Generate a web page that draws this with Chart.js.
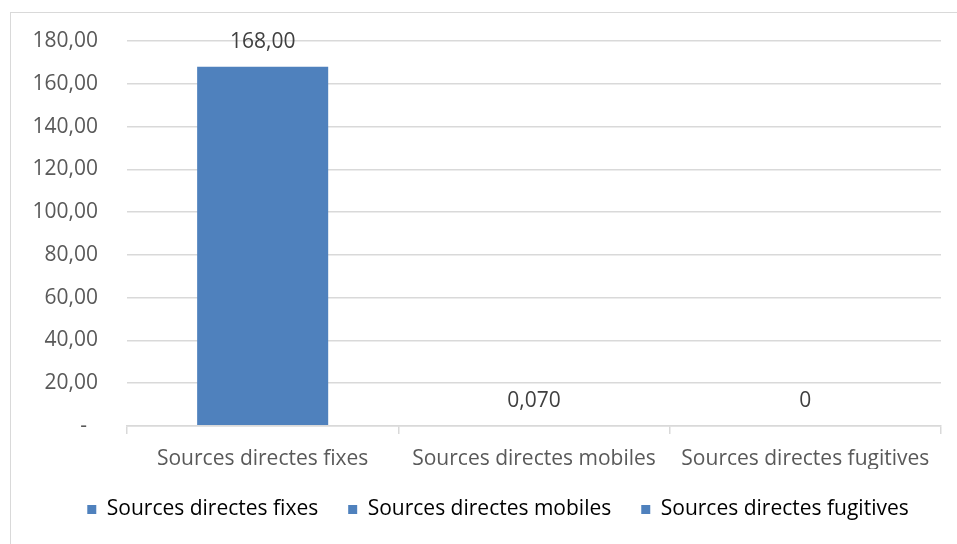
<!DOCTYPE html>
<html>
<head>
<meta charset="utf-8">
<script src="https://cdn.jsdelivr.net/npm/chart.js@4"></script>
<style>
  html, body { margin: 0; padding: 0; background: #fff; overflow: hidden; }
  #frame {
    position: absolute; left: 10px; top: 12px;
    width: 980px; height: 560px;
    border: 1px solid #d9d9d9;
  }
  #wrap { position: absolute; left: 11px; top: 13px; width: 946px; height: 531px; }
</style>
</head>
<body>
<div id="frame"></div>
<div id="wrap"><canvas id="myChart"></canvas></div>
<script>
// Émissions par type de source
const categories = ['Sources directes fixes', 'Sources directes mobiles', 'Sources directes fugitives'];
const values = [168, 0.07, 0];
const labelDecimals = [2, 3, 0];
const yTicks = [0, 20, 40, 60, 80, 100, 120, 140, 160, 180];

const barColor = '#4F81BD';
const font = { family: '"Open Sans", sans-serif', size: 21 };

function virgule(v, d) {
  return v.toFixed(d).replace('.', ',');
}

// Étiquettes de valeur au-dessus des barres
const valeurs = {
  id: 'valeurs',
  afterDatasetsDraw(chart) {
    const ctx = chart.ctx;
    const meta = chart.getDatasetMeta(0);
    ctx.save();
    ctx.font = '21px "Open Sans", sans-serif';
    ctx.fillStyle = '#404040';
    ctx.textAlign = 'center';
    ctx.textBaseline = 'middle';
    meta.data.forEach((bar, i) => {
      ctx.fillText(virgule(values[i], labelDecimals[i]), bar.x, bar.y - 25);
    });
    ctx.restore();
  }
};

// la légende de Chart.js n'est pas tout à fait centrée : on la décale
const decalageLegende = {
  id: 'decalageLegende',
  afterLayout(chart) {
    chart.legend.left += 22;
    chart.legend.right += 22;
  }
};

const data = {
  labels: categories,
  datasets: [{
    data: values,
    backgroundColor: barColor,
    borderWidth: 0,
    categoryPercentage: 1,
    barPercentage: 0.483
  }]
};

const config = {
  type: 'bar',
  data: data,
  options: {
    responsive: true,
    maintainAspectRatio: false,
    animation: false,
    layout: { padding: { left: 0, right: 16, top: 28, bottom: 14 } },
    plugins: {
      tooltip: { enabled: false },
      legend: {
        position: 'bottom',
        labels: {
          font: font,
          color: '#595959',
          boxWidth: 9,
          boxHeight: 9,
          padding: 30,
          generateLabels: () => categories.map((c) => ({
            text: c,
            fillStyle: barColor,
            strokeStyle: barColor,
            lineWidth: 0
          }))
        }
      }
    },
    scales: {
      x: {
        grid: { drawOnChartArea: false, color: '#d9d9d9', lineWidth: 1.5, tickLength: 8 },
        border: { color: '#d9d9d9', width: 1.5, z: 1 },
        ticks: { font: font, color: '#595959', padding: 12 },
        afterFit: (s) => { s.height = 43; }
      },
      y: {
        min: 0,
        max: 180,
        afterBuildTicks: (s) => { s.ticks = yTicks.map((v) => ({ value: v })); },
        // l'écart étiquettes / zone de tracé passe par des graduations invisibles
        grid: { color: '#d9d9d9', lineWidth: 1.5, tickLength: 29, tickColor: 'rgba(0,0,0,0)' },
        border: { display: false },
        ticks: {
          font: font,
          color: '#595959',
          padding: 0,
          callback: (v) => (v === 0 ? '-  ' : virgule(v, 2))
        },
        afterFit: (s) => { s.width = 116; }
      }
    }
  },
  plugins: [valeurs, decalageLegende]
};

new Chart(document.getElementById('myChart').getContext('2d'), config);
</script>
</body>
</html>
